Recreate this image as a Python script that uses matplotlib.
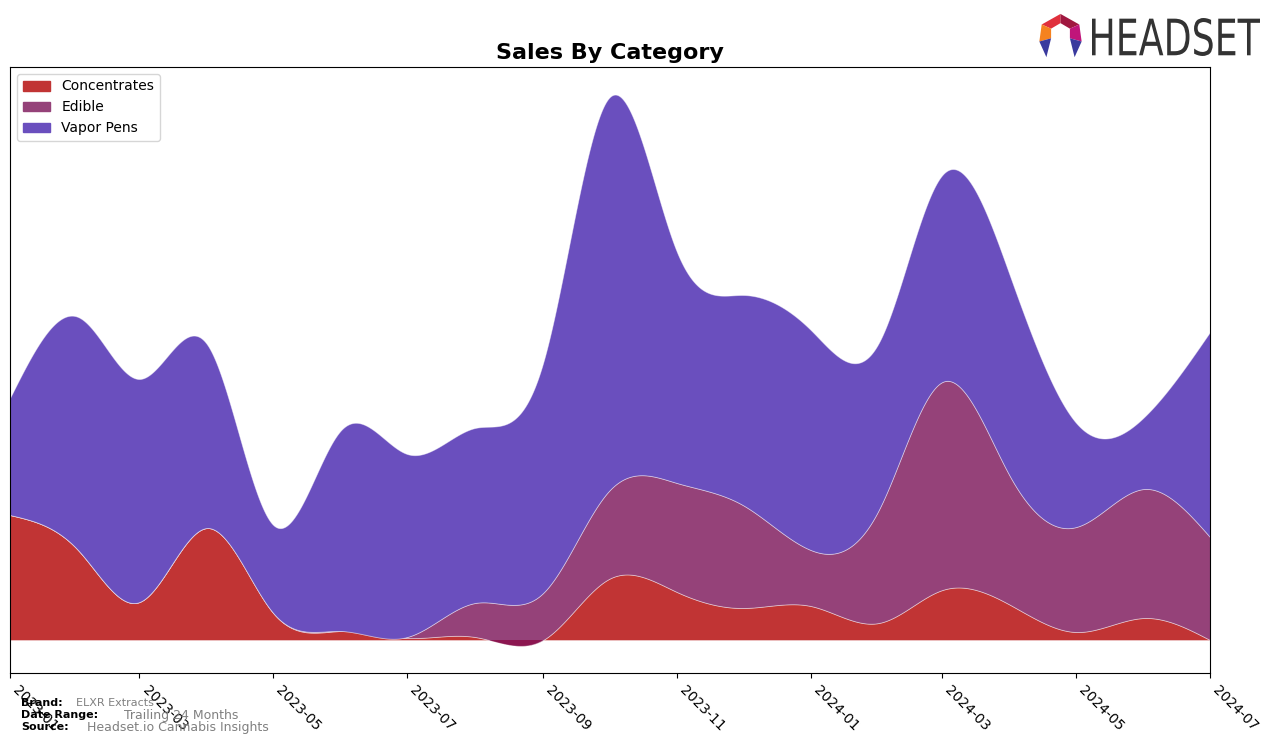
import numpy as np
import matplotlib
matplotlib.use("Agg")
import matplotlib.pyplot as plt
import matplotlib.dates as mdates
import matplotlib.patches as mpatches
from matplotlib.textpath import TextPath
from matplotlib.font_manager import FontProperties
from datetime import date

# Monthly sales (arbitrary units)
MONTHS = ["2023-01", "2023-02", "2023-03", "2023-04", "2023-05", "2023-06",
          "2023-07", "2023-08", "2023-09", "2023-10", "2023-11", "2023-12",
          "2024-01", "2024-02", "2024-03", "2024-04", "2024-05", "2024-06",
          "2024-07"]
CONCENTRATES = [125, 90, 38, 112, 27, 9, 2, 3, 0, 61, 48, 32, 34, 17, 50, 35, 8, 22, 0]
EDIBLE = [0, 0, 0, 0, 0, 0, 1, 34, 47, 88, 109, 103, 56, 113, 208, 128, 105, 129, 103]
VAPOR_PENS = [117, 233, 223, 183, 88, 201, 183, 175, 230, 393, 231, 210, 220, 167, 207, 200, 104, 72, 205]

CATEGORIES = ["Concentrates", "Edible", "Vapor Pens"]
COLORS = ["#C13434", "#954279", "#6A4FBE"]


def spline(x, y, xs):
    """Natural cubic spline evaluated at xs."""
    x = np.asarray(x, float)
    y = np.asarray(y, float)
    n = len(x)
    h = np.diff(x)
    A = np.zeros((n, n))
    b = np.zeros(n)
    A[0, 0] = 1.0
    A[-1, -1] = 1.0
    for i in range(1, n - 1):
        A[i, i - 1] = h[i - 1]
        A[i, i] = 2 * (h[i - 1] + h[i])
        A[i, i + 1] = h[i]
        b[i] = 6 * ((y[i + 1] - y[i]) / h[i] - (y[i] - y[i - 1]) / h[i - 1])
    M = np.linalg.solve(A, b)
    idx = np.clip(np.searchsorted(x, xs) - 1, 0, n - 2)
    x0, x1 = x[idx], x[idx + 1]
    hh = x1 - x0
    return (M[idx] * (x1 - xs) ** 3 / (6 * hh) + M[idx + 1] * (xs - x0) ** 3 / (6 * hh)
            + (y[idx] / hh - M[idx] * hh / 6) * (x1 - xs)
            + (y[idx + 1] / hh - M[idx + 1] * hh / 6) * (xs - x0))


dates = [date(int(m[:4]), int(m[5:]), 1) for m in MONTHS]
xnum = mdates.date2num(dates)
xs = np.linspace(xnum[0], xnum[-1], 1500)

series = [CONCENTRATES, EDIBLE, VAPOR_PENS]
smooth = [spline(xnum, s, xs) for s in series]

fig = plt.figure(figsize=(12.76, 7.43), dpi=100, facecolor="white")
ax = fig.add_axes([10 / 1276, 70 / 743, 1200 / 1276, 606 / 743])

lower = np.zeros_like(xs)
for ys, color in zip(smooth, COLORS):
    upper = lower + ys
    ax.fill_between(xs, lower, upper, facecolor=color, edgecolor=(1, 1, 1, 0.45),
                    linewidth=0.6)
    lower = upper

# where the smoothed concentrates curve dips below zero the layers overlap
neg = np.minimum(smooth[0], 0)
ax.fill_between(xs, neg, 0, where=neg < 0, facecolor="#8C1650", edgecolor="none")

ax.set_xlim(xnum[0], xnum[-1])
ax.set_ylim(-33, 573)
ax.set_yticks([])
ax.xaxis.set_major_locator(mdates.MonthLocator(bymonth=[1, 3, 5, 7, 9, 11]))
ax.xaxis.set_major_formatter(mdates.DateFormatter("%Y-%m"))
plt.setp(ax.get_xticklabels(), rotation=-45, ha="left", fontsize=10)

ax.set_title("Sales By Category", fontsize=16, fontweight="bold")

handles = [mpatches.Patch(color=c, label=l) for c, l in zip(COLORS, CATEGORIES)]
ax.legend(handles=handles, loc="upper left", fontsize=10)

# Footer
fig.text(21 / 1276, 1 - 703 / 743, "Brand:", fontsize=8, fontweight="bold", va="center")
fig.text(76 / 1276, 1 - 703 / 743, "ELXR Extracts", fontsize=8, color="grey", va="center")
fig.text(21 / 1276, 1 - 715 / 743, "Date Range:", fontsize=8, fontweight="bold", va="center")
fig.text(124 / 1276, 1 - 715 / 743, "Trailing 24 Months", fontsize=9, color="grey", va="center")
fig.text(21 / 1276, 1 - 727 / 743, "Source:", fontsize=8, fontweight="bold", va="center")
fig.text(87 / 1276, 1 - 727 / 743, "Headset.io Cannabis Insights", fontsize=9, color="grey",
         va="center")

# Logo wordmark
tp = TextPath((0, 0), "HEADSET", size=10, prop=FontProperties(family="DejaVu Sans"))
ext = tp.get_extents()
lax = fig.add_axes([1092 / 1276, 1 - 56 / 743, 168 / 1276, 38 / 743])
lax.add_patch(mpatches.PathPatch(tp, facecolor="#333333", edgecolor="none"))
lax.set_xlim(ext.x0, ext.x1)
lax.set_ylim(ext.y0, ext.y1)
lax.axis("off")

# Logo icon
iax = fig.add_axes([1037 / 1276, 1 - 59 / 743, 47 / 1276, 46 / 743])
icon = [
    ([(0.1, 0.75), (0.5, 0.98), (0.5, 0.78), (0.3, 0.66)], "#E0303C"),
    ([(0.5, 0.98), (0.9, 0.75), (0.7, 0.66), (0.5, 0.78)], "#A01840"),
    ([(0.1, 0.75), (0.3, 0.66), (0.3, 0.45), (0.05, 0.38)], "#F5821F"),
    ([(0.9, 0.75), (0.95, 0.38), (0.7, 0.45), (0.7, 0.66)], "#C0157A"),
    ([(0.05, 0.38), (0.3, 0.45), (0.2, 0.04)], "#3A3A9E"),
    ([(0.95, 0.38), (0.7, 0.45), (0.8, 0.04)], "#3A3A9E"),
]
for pts, c in icon:
    iax.add_patch(mpatches.Polygon(pts, closed=True, facecolor=c, edgecolor="none"))
iax.set_xlim(0, 1)
iax.set_ylim(0, 1)
iax.axis("off")

fig.savefig("out.png", dpi=100, facecolor="white")
